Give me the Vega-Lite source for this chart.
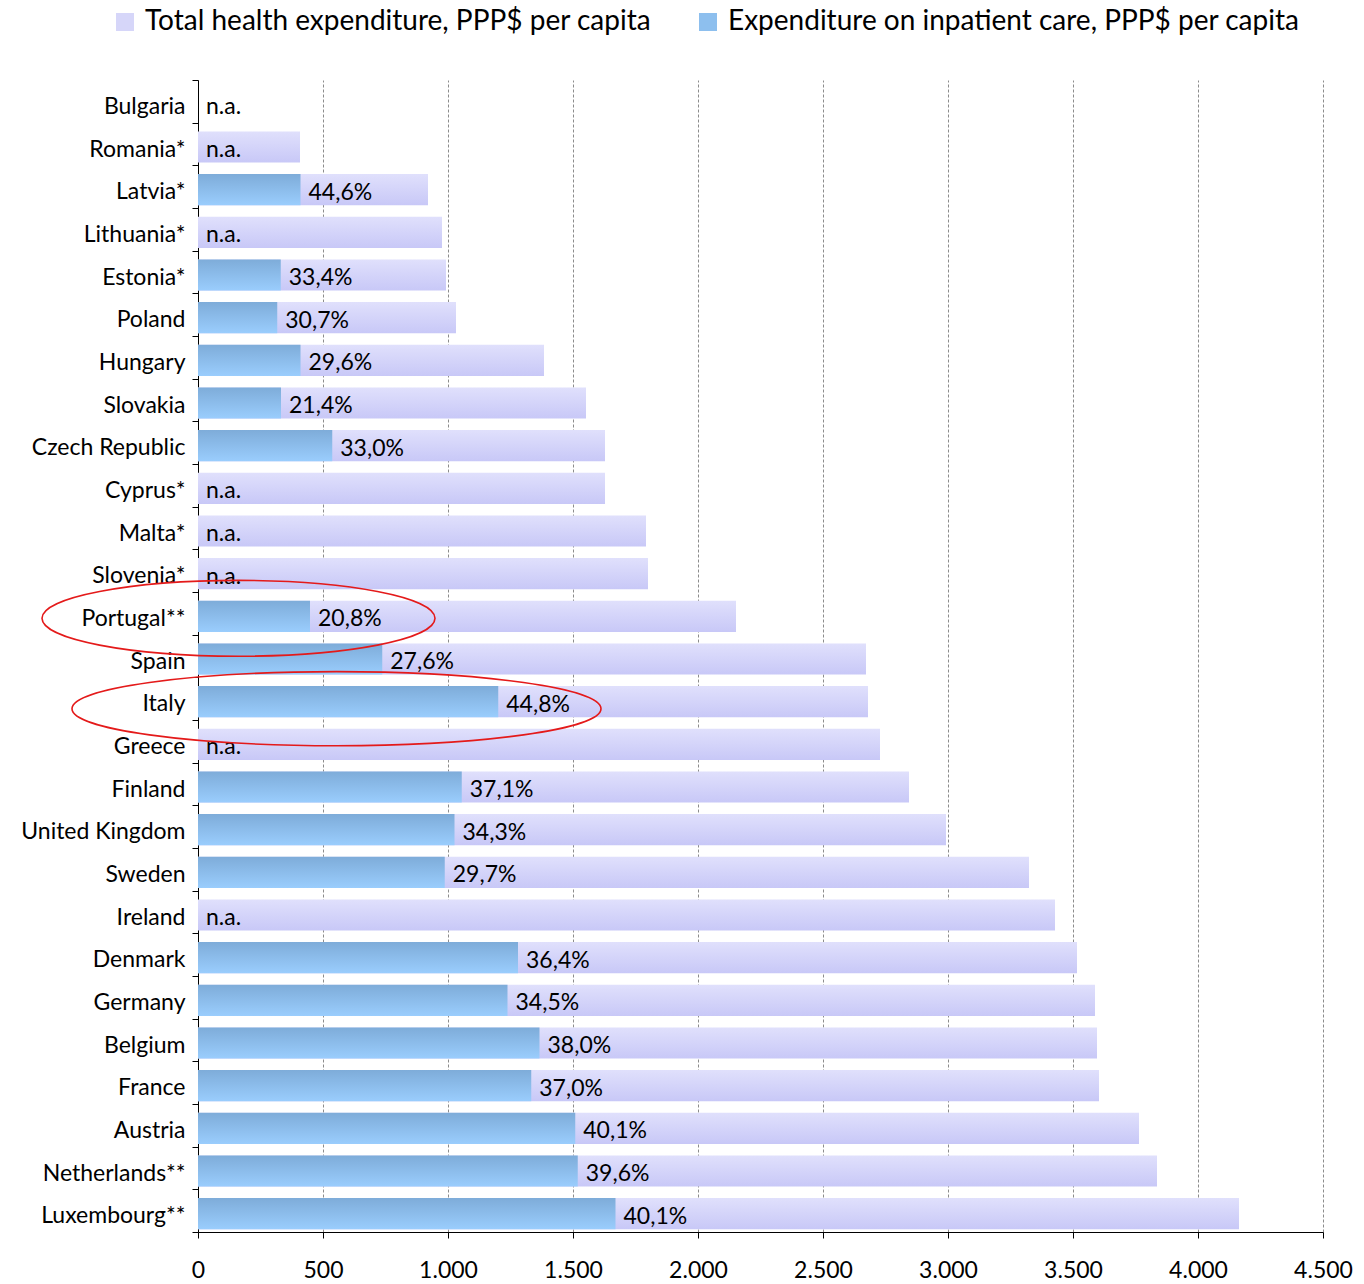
{
  "$schema": "https://vega.github.io/schema/vega-lite/v6.json",
  "autosize": {"type": "none"},
  "padding": {"left": 198, "top": 80, "right": 41, "bottom": 52},
  "width": 1125,
  "height": 1152,
  "background": "white",
  "config": {
    "view": {"stroke": null},
    "font": "Lato",
    "axis": {"labelFont": "Lato", "labelColor": "#000000", "domainColor": "#000000", "tickColor": "#000000", "title": null}
  },
  "datasets": {
    "main": [
      {"country": "Bulgaria", "total": null, "inpatient": null, "label": "n.a."},
      {"country": "Romania*", "total": 408, "inpatient": null, "label": "n.a."},
      {"country": "Latvia*", "total": 920, "inpatient": 410, "label": "44,6%"},
      {"country": "Lithuania*", "total": 976, "inpatient": null, "label": "n.a."},
      {"country": "Estonia*", "total": 992, "inpatient": 331, "label": "33,4%"},
      {"country": "Poland", "total": 1032, "inpatient": 317, "label": "30,7%"},
      {"country": "Hungary", "total": 1384, "inpatient": 410, "label": "29,6%"},
      {"country": "Slovakia", "total": 1552, "inpatient": 332, "label": "21,4%"},
      {"country": "Czech Republic", "total": 1628, "inpatient": 537, "label": "33,0%"},
      {"country": "Cyprus*", "total": 1628, "inpatient": null, "label": "n.a."},
      {"country": "Malta*", "total": 1792, "inpatient": null, "label": "n.a."},
      {"country": "Slovenia*", "total": 1800, "inpatient": null, "label": "n.a."},
      {"country": "Portugal**", "total": 2152, "inpatient": 448, "label": "20,8%"},
      {"country": "Spain", "total": 2672, "inpatient": 737, "label": "27,6%"},
      {"country": "Italy", "total": 2680, "inpatient": 1201, "label": "44,8%"},
      {"country": "Greece", "total": 2728, "inpatient": null, "label": "n.a."},
      {"country": "Finland", "total": 2844, "inpatient": 1055, "label": "37,1%"},
      {"country": "United Kingdom", "total": 2992, "inpatient": 1026, "label": "34,3%"},
      {"country": "Sweden", "total": 3324, "inpatient": 987, "label": "29,7%"},
      {"country": "Ireland", "total": 3428, "inpatient": null, "label": "n.a."},
      {"country": "Denmark", "total": 3516, "inpatient": 1280, "label": "36,4%"},
      {"country": "Germany", "total": 3588, "inpatient": 1238, "label": "34,5%"},
      {"country": "Belgium", "total": 3596, "inpatient": 1366, "label": "38,0%"},
      {"country": "France", "total": 3604, "inpatient": 1333, "label": "37,0%"},
      {"country": "Austria", "total": 3764, "inpatient": 1509, "label": "40,1%"},
      {"country": "Netherlands**", "total": 3836, "inpatient": 1519, "label": "39,6%"},
      {"country": "Luxembourg**", "total": 4164, "inpatient": 1670, "label": "40,1%"}
    ],
    "highlights": [
      {"country": "Portugal**", "center": 162},
      {"country": "Italy", "center": 554}
    ],
    "series": [
      {"series": "Total health expenditure, PPP$ per capita"},
      {"series": "Expenditure on inpatient care, PPP$ per capita"}
    ]
  },
  "encoding": {
    "y": {
      "field": "country",
      "type": "nominal",
      "sort": null,
      "scale": {
        "paddingInner": 0,
        "paddingOuter": 0,
        "domain": ["Bulgaria", "Romania*", "Latvia*", "Lithuania*", "Estonia*", "Poland", "Hungary", "Slovakia", "Czech Republic", "Cyprus*", "Malta*", "Slovenia*", "Portugal**", "Spain", "Italy", "Greece", "Finland", "United Kingdom", "Sweden", "Ireland", "Denmark", "Germany", "Belgium", "France", "Austria", "Netherlands**", "Luxembourg**"]
      },
      "axis": {
        "tickBand": "extent",
        "tickSize": 6,
        "labelPadding": 7,
        "labelFontSize": 23,
        "labelBaseline": "alphabetic",
        "labelOffset": 12,
        "labelLimit": 0,
        "grid": false
      }
    }
  },
  "layer": [
    {
      "data": {"name": "main"},
      "mark": {
        "type": "bar",
        "height": {"band": 0.73},
        "yOffset": 3,
        "color": {"gradient": "linear", "x1": 0, "y1": 0, "x2": 0, "y2": 1, "stops": [{"offset": 0, "color": "#e0e0fc"}, {"offset": 1, "color": "#c8c8f7"}]}
      },
      "encoding": {
        "x": {
          "field": "total",
          "type": "quantitative",
          "scale": {"domain": [0, 4500], "nice": false},
          "axis": {
            "values": [0, 500, 1000, 1500, 2000, 2500, 3000, 3500, 4000, 4500],
            "labelExpr": "replace(format(datum.value, ','), ',', '.')",
            "tickSize": 6,
            "labelPadding": 39,
            "labelBaseline": "alphabetic",
            "labelFontSize": 23,
            "labelFlush": false,
            "grid": true,
            "gridColor": "#8c8c8c",
            "gridDash": [3, 2],
            "gridWidth": 1
          }
        }
      }
    },
    {
      "data": {"name": "main"},
      "mark": {
        "type": "bar",
        "height": {"band": 0.73},
        "yOffset": 3,
        "color": {"gradient": "linear", "x1": 0, "y1": 0, "x2": 0, "y2": 1, "stops": [{"offset": 0, "color": "#7eacd9"}, {"offset": 1, "color": "#9acdfd"}]}
      },
      "encoding": {
        "x": {"field": "inpatient", "type": "quantitative"}
      }
    },
    {
      "data": {"name": "main"},
      "transform": [{"filter": "datum.inpatient != null"}],
      "mark": {"type": "text", "align": "left", "baseline": "alphabetic", "dx": 8, "dy": 13, "fontSize": 23, "font": "Lato", "color": "#000000"},
      "encoding": {
        "x": {"field": "inpatient", "type": "quantitative"},
        "text": {"field": "label"}
      }
    },
    {
      "data": {"name": "main"},
      "transform": [{"filter": "datum.inpatient == null"}],
      "mark": {"type": "text", "align": "left", "baseline": "alphabetic", "dx": 8, "dy": 13, "fontSize": 23, "font": "Lato", "color": "#000000"},
      "encoding": {
        "x": {"datum": 0, "type": "quantitative"},
        "text": {"field": "label"}
      }
    },
    {
      "data": {"name": "highlights"},
      "transform": [{"filter": "datum.country == 'Portugal**'"}],
      "mark": {
        "type": "point",
        "filled": false,
        "stroke": "#e41a1a",
        "strokeWidth": 1.6,
        "opacity": 1,
        "yOffset": 5,
        "size": 154449,
        "shape": "M -1 0 C -1 -0.1066 -0.5523 -0.193 0 -0.193 C 0.5523 -0.193 1 -0.1066 1 0 C 1 0.1066 0.5523 0.193 0 0.193 C -0.5523 0.193 -1 0.1066 -1 0 Z"
      },
      "encoding": {
        "x": {"field": "center", "type": "quantitative"}
      }
    },
    {
      "data": {"name": "highlights"},
      "transform": [{"filter": "datum.country == 'Italy'"}],
      "mark": {
        "type": "point",
        "filled": false,
        "stroke": "#e41a1a",
        "strokeWidth": 1.6,
        "opacity": 1,
        "yOffset": 10,
        "size": 279841,
        "shape": "M -1 0 C -1 -0.0773 -0.5523 -0.14 0 -0.14 C 0.5523 -0.14 1 -0.0773 1 0 C 1 0.0773 0.5523 0.14 0 0.14 C -0.5523 0.14 -1 0.0773 -1 0 Z"
      },
      "encoding": {
        "x": {"field": "center", "type": "quantitative"}
      }
    },
    {
      "data": {"name": "series"},
      "mark": {"type": "point", "filled": true, "opacity": 0, "shape": "square"},
      "encoding": {
        "y": {"value": 0},
        "x": {"value": 0},
        "color": {
          "field": "series",
          "type": "nominal",
          "scale": {
            "domain": ["Total health expenditure, PPP$ per capita", "Expenditure on inpatient care, PPP$ per capita"],
            "range": ["#d6d6f9", "#8dbfee"]
          },
          "legend": {
            "orient": "none",
            "legendX": -87,
            "legendY": -72,
            "direction": "horizontal",
            "title": null,
            "symbolType": "square",
            "symbolSize": 324,
            "symbolOpacity": 1,
            "symbolStrokeWidth": 0,
            "labelFont": "Lato",
            "labelFontSize": 28,
            "labelColor": "#000000",
            "labelOffset": 6,
            "labelLimit": 0,
            "columnPadding": 42
          }
        }
      }
    }
  ]
}
